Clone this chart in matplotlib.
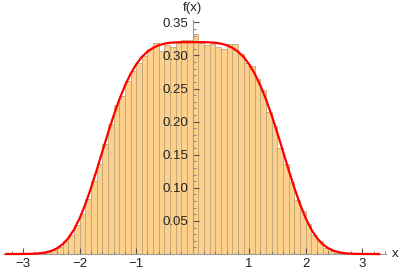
import numpy as np
import matplotlib
matplotlib.use('Agg')
from matplotlib import pyplot as plt
from matplotlib.ticker import MultipleLocator, FixedLocator

plt.rcParams['font.family'] = ['Liberation Sans', 'DejaVu Sans']

# histogram bins (width 0.1) and the bar heights
bin_left = np.round(np.arange(-2.7, 2.7, 0.1), 1)
bar_height = [0.001, 0.003, 0.006, 0.011, 0.019, 0.028, 0.044, 0.061, 0.083, 0.110,
              0.136, 0.166, 0.196, 0.225, 0.238, 0.262, 0.276, 0.289, 0.299, 0.309,
              0.318, 0.307, 0.316, 0.313, 0.318, 0.323, 0.324,
              0.333, 0.318, 0.316, 0.317, 0.312, 0.309, 0.317, 0.317, 0.302, 0.288,
              0.284, 0.264, 0.248, 0.215, 0.193, 0.160, 0.136, 0.109, 0.081, 0.065,
              0.046, 0.029, 0.019, 0.009, 0.005, 0.002, 0.001]

# red density curve, sampled every 0.1
curve_x = np.round(np.arange(-3.3, 3.31, 0.1), 1)
curve_y = [0.0, 0.0, 0.0, 0.0001, 0.0002, 0.0005, 0.0011, 0.0024, 0.0047, 0.0086,
           0.0148, 0.0240, 0.0369, 0.0541, 0.0752, 0.0997, 0.1265, 0.1545, 0.1823, 0.2088,
           0.2330, 0.2541, 0.2720, 0.2865, 0.2978, 0.3058, 0.3116, 0.3154, 0.3178, 0.3191,
           0.3197, 0.3200, 0.3200, 0.3200, 0.3200, 0.3200, 0.3197, 0.3191, 0.3178, 0.3154,
           0.3116, 0.3058, 0.2978, 0.2865, 0.2720, 0.2541, 0.2330, 0.2088, 0.1823, 0.1545,
           0.1265, 0.0997, 0.0752, 0.0541, 0.0369, 0.0240, 0.0148, 0.0086, 0.0047, 0.0024,
           0.0011, 0.0005, 0.0002, 0.0001, 0.0, 0.0, 0.0]

xticks = [-3, -2, -1, 1, 2, 3]
yticks = [0.05, 0.10, 0.15, 0.20, 0.25, 0.30, 0.35]

fig = plt.figure(figsize=(4.01, 2.74), dpi=100)
ax = fig.add_axes([3/401, 1 - 254/274, 383/401, 234/274])
ax.set_axisbelow(False)

ax.bar(bin_left, bar_height, width=0.1, align='edge', color='#fdd18c',
       edgecolor='#bfa57a', linewidth=0.6, zorder=1)
ax.plot(curve_x, curve_y, color='#ff0000', linewidth=1.6, zorder=3, clip_on=False)

ax.set_xlim(-3.357, 3.421)
ax.set_ylim(0, 0.3535)

for s in ['top', 'right']:
    ax.spines[s].set_visible(False)
ax.spines['left'].set_position(('data', 0))
for s in ['left', 'bottom']:
    ax.spines[s].set_color('#9a9a9a')
    ax.spines[s].set_linewidth(0.8)
    ax.spines[s].set_zorder(2.6)

ax.xaxis.set_major_locator(FixedLocator(xticks))
ax.xaxis.set_minor_locator(MultipleLocator(0.2))
ax.yaxis.set_major_locator(FixedLocator(yticks))
ax.yaxis.set_minor_locator(MultipleLocator(0.01))
ax.set_yticklabels(['{:.2f}'.format(v) for v in yticks])
ax.set_xticklabels([str(v).replace('-', '\u2212') for v in xticks])
ax.tick_params(which='major', direction='in', length=4, width=0.8, color='#555555',
               labelsize=9.5, labelcolor='#222222', pad=3)
ax.tick_params(which='minor', direction='in', length=2.2, width=0.6, color='#777777')
ax.patch.set_visible(False)

ax.text(3.52, 0, 'x', fontsize=9.5, color='#222222', va='center', ha='left',
        transform=ax.transData, clip_on=False)
ax.text(0, 0.372, 'f(x)', fontsize=9.5, color='#222222', va='center', ha='center',
        transform=ax.transData, clip_on=False)

plt.savefig('out.png', dpi=100)
